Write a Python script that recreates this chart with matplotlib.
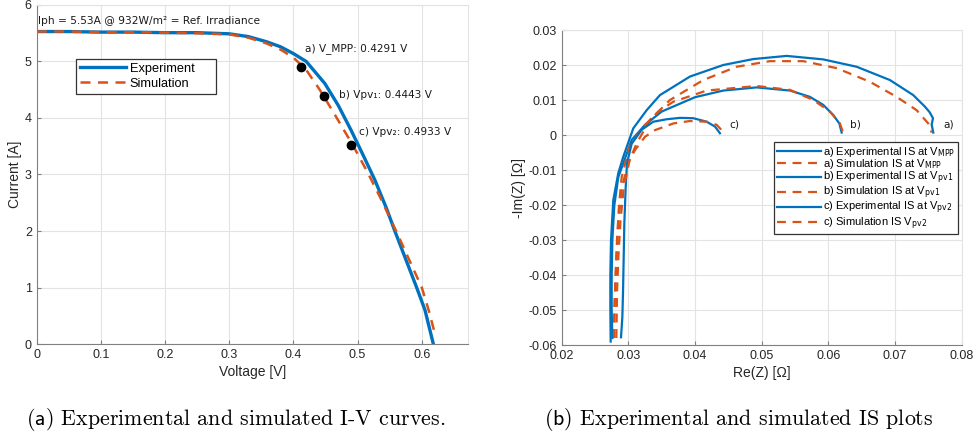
import matplotlib
matplotlib.use("Agg")
import matplotlib.pyplot as plt

plt.rcParams['font.family'] = ['Liberation Sans', 'DejaVu Sans']
plt.rcParams['axes.unicode_minus'] = False

BLUE = '#0072BD'
ORANGE = '#D95319'

# --- I-V curves (left) ---
v_exp = [0, 0.05, 0.1, 0.15, 0.2, 0.25, 0.3, 0.33, 0.358, 0.38, 0.4, 0.42, 0.449,
         0.47, 0.49, 0.51, 0.527, 0.545, 0.558, 0.575, 0.592, 0.605, 0.618]
i_exp = [5.53, 5.53, 5.52, 5.52, 5.51, 5.51, 5.49, 5.44, 5.35, 5.26, 5.14, 5.0, 4.61,
         4.22, 3.78, 3.31, 2.90, 2.40, 2.0, 1.5, 1.0, 0.6, 0.0]
v_sim = [0, 0.05, 0.1, 0.15, 0.2, 0.25, 0.3, 0.33, 0.358, 0.38, 0.4, 0.42, 0.441,
         0.465, 0.494, 0.515, 0.535, 0.56, 0.58, 0.6, 0.612, 0.6204]
i_sim = [5.53, 5.53, 5.52, 5.52, 5.51, 5.50, 5.48, 5.42, 5.32, 5.21, 5.07, 4.85, 4.50,
         4.05, 3.49, 3.05, 2.6, 2.0, 1.5, 1.0, 0.55, 0.18]
v_pts = [0.4117, 0.4475, 0.4896]
i_pts = [4.91, 4.39, 3.53]
pt_labels = ['a) V_MPP: 0.4291 V', 'b) Vpv\u2081: 0.4443 V', 'c) Vpv\u2082: 0.4933 V']
pt_label_xy = [(0.418, 5.23), (0.471, 4.41), (0.502, 3.76)]

# --- impedance spectra (right) ---
exp_a_re = [0.02735, 0.0273, 0.0273, 0.0274, 0.02774, 0.02849, 0.02924, 0.03074, 0.03275,
            0.03474, 0.03924, 0.04424, 0.04874, 0.05375, 0.05924, 0.06425, 0.06924,
            0.07274, 0.07449, 0.0752, 0.0757, 0.0755, 0.07574]
exp_a_im = [-0.059, -0.05, -0.04, -0.03, -0.0186, -0.0109, -0.0062, 0.0019, 0.0071,
            0.0114, 0.0167, 0.0200, 0.0217, 0.0226, 0.0216, 0.0195, 0.0157,
            0.0114, 0.0081, 0.0065, 0.0048, 0.0030, 0.0007]
exp_b_re = [0.0276, 0.0275, 0.0275, 0.0276, 0.0279, 0.0285, 0.0295, 0.0305, 0.0325,
            0.0350, 0.0400, 0.04424, 0.04925, 0.05424, 0.05724, 0.05924, 0.06074,
            0.06165, 0.0620]
exp_b_im = [-0.058, -0.05, -0.04, -0.03, -0.02, -0.012, -0.0067, -0.0014, 0.0029,
            0.0067, 0.0108, 0.0127, 0.0136, 0.0127, 0.0109, 0.0086, 0.0057,
            0.0033, 0.0007]
exp_c_re = [0.0289, 0.0291, 0.0292, 0.0293, 0.0294, 0.0296, 0.0298, 0.0305, 0.0320,
            0.03374, 0.03575, 0.03775, 0.03974, 0.04175, 0.0430, 0.04374]
exp_c_im = [-0.0578, -0.052, -0.045, -0.035, -0.025, -0.015, -0.008, -0.0025, 0.0015,
            0.0038, 0.0045, 0.0049, 0.0048, 0.0038, 0.0024, 0.0005]
sim_a_re = [0.0278, 0.0280, 0.0282, 0.0285, 0.0290, 0.0300, 0.03124, 0.03324, 0.03624,
            0.04124, 0.04624, 0.05124, 0.05624, 0.06125, 0.06624, 0.07024, 0.07324,
            0.07499, 0.0755]
sim_a_im = [-0.058, -0.045, -0.035, -0.025, -0.015, -0.008, -0.0024, 0.0043, 0.0100,
            0.0157, 0.0195, 0.0211, 0.0211, 0.0191, 0.0152, 0.0109, 0.0071,
            0.0033, 0.0007]
sim_b_re = [0.0279, 0.0279, 0.0281, 0.0283, 0.0286, 0.0290, 0.0297, 0.0302, 0.0320,
            0.0345, 0.03674, 0.04175, 0.04925, 0.05424, 0.05774, 0.06024, 0.06174, 0.06224]
sim_b_im = [-0.058, -0.05, -0.04, -0.03, -0.02, -0.012, -0.0067, -0.0033, 0.0019,
            0.0067, 0.0095, 0.0127, 0.0140, 0.0129, 0.0100, 0.0067, 0.0033, 0.0005]
sim_c_re = [0.0282, 0.0283, 0.0285, 0.0288, 0.0293, 0.0302, 0.0310, 0.0325, 0.0340,
            0.03674, 0.03924, 0.04175, 0.04325, 0.04424, 0.0445]
sim_c_im = [-0.058, -0.045, -0.035, -0.025, -0.015, -0.0071, -0.0043, -0.0005, 0.0014,
            0.0033, 0.0040, 0.0038, 0.0029, 0.0009, 0.0]
is_labels = [r'a) Experimental IS at V$_{\mathrm{MPP}}$', r'a) Simulation IS at V$_{\mathrm{MPP}}$',
             r'b) Experimental IS at V$_{\mathrm{pv1}}$', r'b) Simulation IS at V$_{\mathrm{pv1}}$',
             r'c) Experimental IS at V$_{\mathrm{pv2}}$', r'c) Simulation IS V$_{\mathrm{pv2}}$']
arc_tags = ['a)', 'b)', 'c)']
arc_tag_xy = [(0.0772, 0.0029), (0.0632, 0.0029), (0.0451, 0.0029)]


def style_axes(ax):
    ax.grid(True, color='#e3e3e3', linewidth=0.8)
    ax.set_axisbelow(True)
    for s in ['left', 'bottom']:
        ax.spines[s].set_color('#808080')
    for s in ['top', 'right']:
        ax.spines[s].set_color('#e3e3e3')
    ax.tick_params(direction='in', length=3, color='#808080', labelsize=9,
                   labelcolor='#262626')


fig = plt.figure(figsize=(9.76, 4.38), dpi=100)

ax1 = fig.add_axes([0.0376, 0.2146, 0.4419, 0.774])
# trailing spaces give the wider MATLAB-like legend box
ax1.plot(v_exp, i_exp, color=BLUE, lw=2.4, label='Experiment     ')
ax1.plot(v_sim, i_sim, color=ORANGE, lw=1.8, ls=(0, (4, 3)), label='Simulation')
ax1.plot(v_pts, i_pts, 'o', color='black', ms=6)
for txt, (x, y) in zip(pt_labels, pt_label_xy):
    ax1.text(x, y, txt, fontsize=7.6, family='DejaVu Sans', va='center', color='#1a1a1a')
ax1.text(0.0025, 5.72, 'Iph = 5.53A @ 932W/m\u00b2 = Ref. Irradiance', fontsize=7.7,
         family='DejaVu Sans', va='center', color='#1a1a1a')
ax1.set_xlim(0, 0.672)
ax1.set_ylim(0, 6)
ax1.set_xticks([0, 0.1, 0.2, 0.3, 0.4, 0.5, 0.6])
ax1.set_xticklabels(['0', '0.1', '0.2', '0.3', '0.4', '0.5', '0.6'])
ax1.set_yticks([0, 1, 2, 3, 4, 5, 6])
ax1.set_xlabel('Voltage [V]', fontsize=10, color='#262626', labelpad=3)
ax1.set_ylabel('Current [A]', fontsize=10, color='#262626', labelpad=2)
style_axes(ax1)
leg1 = ax1.legend(loc='upper left', bbox_to_anchor=(0.091, 0.841), borderaxespad=0,
                  fontsize=9.2, fancybox=False, framealpha=1, edgecolor='#333333',
                  handlelength=3.6, borderpad=0.3, labelspacing=0.25, handletextpad=0.3)
leg1.get_frame().set_linewidth(0.9)

ax2 = fig.add_axes([0.5755, 0.2123, 0.4098, 0.7192])
curves = [(exp_a_re, exp_a_im, 'e'), (sim_a_re, sim_a_im, 's'),
          (exp_b_re, exp_b_im, 'e'), (sim_b_re, sim_b_im, 's'),
          (exp_c_re, exp_c_im, 'e'), (sim_c_re, sim_c_im, 's')]
for (re, im, kind), lab in zip(curves, is_labels):
    if kind == 'e':
        ax2.plot(re, im, color=BLUE, lw=1.6, label=lab)
    else:
        ax2.plot(re, im, color=ORANGE, lw=1.6, ls=(0, (4, 3)), label=lab)
for txt, (x, y) in zip(arc_tags, arc_tag_xy):
    ax2.text(x, y, txt, fontsize=7.6, family='DejaVu Sans', va='center', color='#1a1a1a')
ax2.set_xlim(0.02, 0.08)
ax2.set_ylim(-0.06, 0.03)
ax2.set_xticks([0.02, 0.03, 0.04, 0.05, 0.06, 0.07, 0.08])
ax2.set_yticks([-0.06, -0.05, -0.04, -0.03, -0.02, -0.01, 0, 0.01, 0.02, 0.03])
ax2.set_yticklabels(['-0.06', '-0.05', '-0.04', '-0.03', '-0.02', '-0.01', '0',
                     '0.01', '0.02', '0.03'])
ax2.set_xlabel('Re(Z) [\u03a9]', fontsize=10, color='#262626', labelpad=3)
ax2.set_ylabel('-Im(Z) [\u03a9]', fontsize=10, color='#262626', labelpad=2)
style_axes(ax2)
leg2 = ax2.legend(loc='upper right', bbox_to_anchor=(0.992, 0.645), borderaxespad=0,
                  fontsize=8, fancybox=False, framealpha=1, edgecolor='#333333',
                  handlelength=4.0, borderpad=0.25, labelspacing=-0.12, handletextpad=0.2)
leg2.get_frame().set_linewidth(0.9)

fig.text(0.2418, 0.042, r'($\mathsf{a}$) Experimental and simulated I-V curves.',
         fontsize=15.8, family='cmr10', math_fontfamily='cm', ha='center', va='center')
fig.text(0.757, 0.042, r'($\mathsf{b}$) Experimental and simulated IS plots',
         fontsize=15.8, family='cmr10', math_fontfamily='cm', ha='center', va='center')

fig.savefig('out.png', dpi=100)
